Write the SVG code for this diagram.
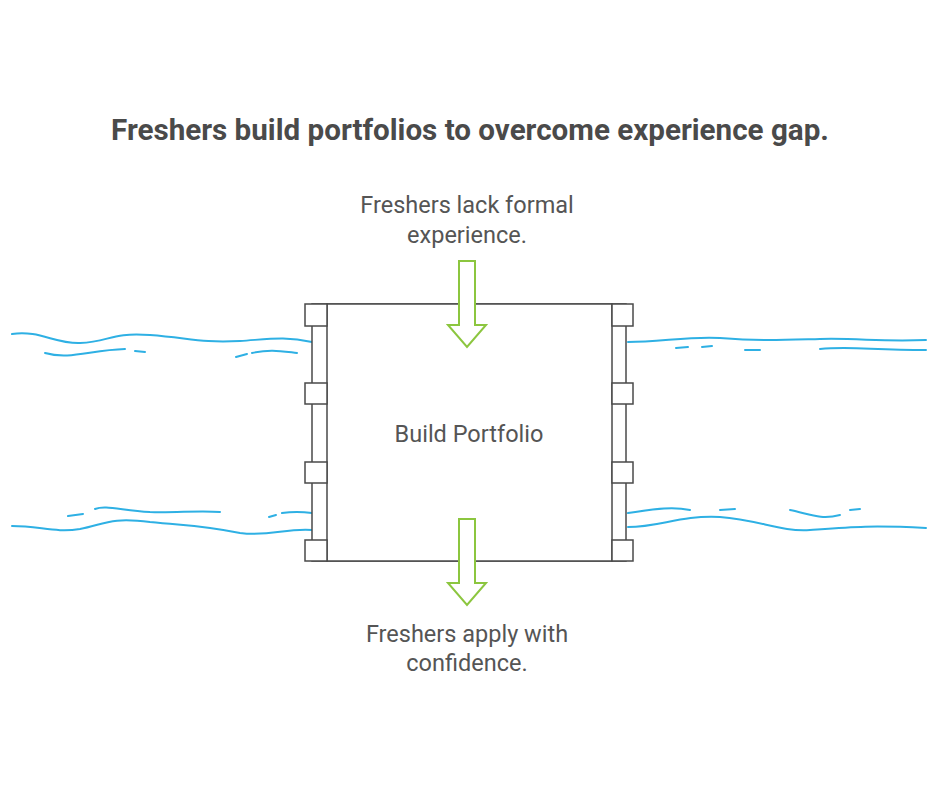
<svg xmlns="http://www.w3.org/2000/svg" width="940" height="788" viewBox="0 0 940 788">
<style>
.w{fill:none;stroke:#2eb0e4;stroke-width:2;stroke-linecap:round}
.b{fill:#fff;stroke:#4a4a4a;stroke-width:1.5}
.a{fill:#fff;stroke:#8cc63f;stroke-width:2;stroke-linejoin:miter}
.t{font-family:Roboto,"Liberation Sans",sans-serif;fill:#555;font-size:23.5px;text-anchor:middle}
</style>
<rect width="940" height="788" fill="#fff"/>
<text x="470" y="140" class="t" style="font-size:29.6px;font-weight:bold;fill:#4a4a4a">Freshers build portfolios to overcome experience gap.</text>
<g id="connectors">
<path class="w" d="M12 334 C40 330 55 344 80 343 C110 342 110 332 150 335 C190 338 200 343 240 341 C270 339 285 336 312 342"/>
<path class="w" d="M45 353 C70 360 90 350 125 349 M135 351 L145 352 M236 357 L247 354 M252 353 C270 349 280 351 297 353"/>
<path class="w" d="M12 526 C40 526 55 533 80 529 C105 524 110 517 150 522 C190 526 200 525 240 533 C270 537 285 528 312 530"/>
<path class="w" d="M68 516 L83 514 M95 509 C105 505 120 510 150 512 C175 513 200 510 220 512 M269 517 L276 515 M282 513 C295 511 305 512 312 513"/>
<path class="w" d="M628 342 C660 342 690 336 720 338 C760 341 780 340 820 339 C860 338 880 342 926 340"/>
<path class="w" d="M676 348 L688 347 M702 347 L712 346 M745 350 L760 350 M820 349 C850 346 870 350 926 350"/>
<path class="w" d="M628 513 C650 510 670 506 690 510 M720 510 L735 509 M790 510 C810 514 820 520 840 515 M850 510 L860 509"/>
<path class="w" d="M628 527 C660 527 680 515 720 517 C760 520 780 532 810 530 C850 527 870 525 926 528"/>
</g>
<g id="box">
<rect x="312" y="304" width="314" height="257" class="b"/>
<rect x="327" y="304" width="285" height="257" class="b"/>
<rect x="305" y="304" width="22" height="22" class="b"/>
<rect x="305" y="383" width="22" height="21" class="b"/>
<rect x="305" y="462" width="22" height="21" class="b"/>
<rect x="305" y="540" width="22" height="21" class="b"/>
<rect x="612" y="304" width="21" height="22" class="b"/>
<rect x="612" y="383" width="21" height="21" class="b"/>
<rect x="612" y="462" width="21" height="21" class="b"/>
<rect x="612" y="540" width="21" height="21" class="b"/>
<text x="469" y="442" class="t">Build Portfolio</text>
</g>
<g id="top">
<path class="a" d="M459 261 H475 V325 H486 L467 347 L448 325 H459 Z"/>
<text x="467" y="213" class="t">Freshers lack formal</text>
<text x="467" y="243" class="t">experience.</text>
</g>
<g id="bottom">
<path class="a" d="M459 519 H475 V583 H486 L467 605 L448 583 H459 Z"/>
<text x="467" y="642" class="t">Freshers apply with</text>
<text x="467" y="671" class="t">confidence.</text>
</g>
</svg>
